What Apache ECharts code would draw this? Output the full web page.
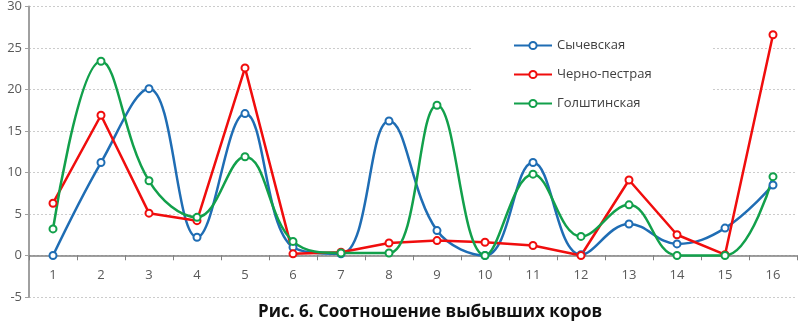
<!DOCTYPE html>
<html>
<head>
<meta charset="utf-8">
<script src="https://cdn.jsdelivr.net/npm/echarts@6/dist/echarts.min.js"></script>
<style>
  html, body { margin: 0; padding: 0; background: #fff; }
  #main { width: 798px; height: 331px; }
</style>
</head>
<body>
<div id="main"></div>
<script>
  // данные по группам
  var categories = ['1', '2', '3', '4', '5', '6', '7', '8', '9', '10', '11', '12', '13', '14', '15', '16'];
  var sychevskaya = [0, 11.2, 20.1, 2.2, 17.1, 1.0, 0.2, 16.2, 3.0, 0, 11.2, 0.1, 3.8, 1.4, 3.3, 8.5];
  var chernoPestraya = [6.3, 16.9, 5.1, 4.2, 22.6, 0.2, 0.4, 1.5, 1.8, 1.6, 1.2, 0, 9.1, 2.5, 0.1, 26.6];
  var golshtinskaya = [3.2, 23.4, 9.0, 4.6, 11.9, 1.7, 0.3, 0.3, 18.1, 0, 9.8, 2.3, 6.1, 0, 0, 9.5];
  var yTicks = { min: -5, max: 30, step: 5 };

  var font = '"Open Sans", "Noto Sans", sans-serif';
  var gridTop = 5, gridBottom = 34, height = 331;

  // сдвиг оси X на уровень нуля
  var plotH = height - gridTop - gridBottom;
  var zeroShift = plotH * (0 - yTicks.min) / (yTicks.max - yTicks.min);

  function line(name, data, color, smooth) {
    return {
      name: name,
      type: 'line',
      data: data,
      smooth: smooth ? 0.4 : false,
      symbol: 'emptyCircle',
      symbolSize: 7,
      lineStyle: { color: color, width: 2.5 },
      itemStyle: { color: color, borderColor: color, borderWidth: 2 },
      z: 3
    };
  }

  var chart = echarts.init(document.getElementById('main'));
  chart.setOption({
    animation: false,
    backgroundColor: '#fff',
    textStyle: { fontFamily: font },
    title: {
      text: 'Рис. 6. Соотношение выбывших коров',
      left: 258,
      top: 304,
      padding: 0,
      textStyle: { fontFamily: font, fontSize: 17, fontWeight: 'bold', color: '#111' }
    },
    grid: { left: 29, right: 1, top: gridTop, bottom: gridBottom, containLabel: false },
    legend: {
      orient: 'vertical',
      left: 473,
      top: 27,
      padding: [12, 60, 12, 40],
      backgroundColor: '#fff',
      itemWidth: 38,
      itemHeight: 9,
      itemGap: 16,
      z: 10,
      textStyle: { fontFamily: font, fontSize: 13, color: '#404040' },
      data: ['Сычевская', 'Черно-пестрая', 'Голштинская']
    },
    xAxis: {
      type: 'category',
      data: categories,
      boundaryGap: true,
      offset: -zeroShift,
      axisLine: { onZero: false, lineStyle: { color: '#808080', width: 1.5 } },
      axisTick: { show: true, interval: 0, length: 5, lineStyle: { color: '#808080' } },
      axisLabel: { interval: 0, margin: 14, fontSize: 13, color: '#595959', fontFamily: font },
      splitLine: { show: false }
    },
    yAxis: {
      type: 'value',
      min: yTicks.min,
      max: yTicks.max,
      interval: yTicks.step,
      axisLine: { show: true, lineStyle: { color: '#a0a0a0', width: 2 } },
      axisTick: { show: true, length: 4, lineStyle: { color: '#a0a0a0' } },
      axisLabel: { margin: 7, fontSize: 13, color: '#595959', fontFamily: font },
      splitLine: { show: true, lineStyle: { color: '#cccccc', type: [2, 2], width: 1 } }
    },
    series: [
      line('Сычевская', sychevskaya, '#1f6db4', true),
      line('Черно-пестрая', chernoPestraya, '#f00d0d', false),
      line('Голштинская', golshtinskaya, '#12a04b', true)
    ]
  });
</script>
</body>
</html>
